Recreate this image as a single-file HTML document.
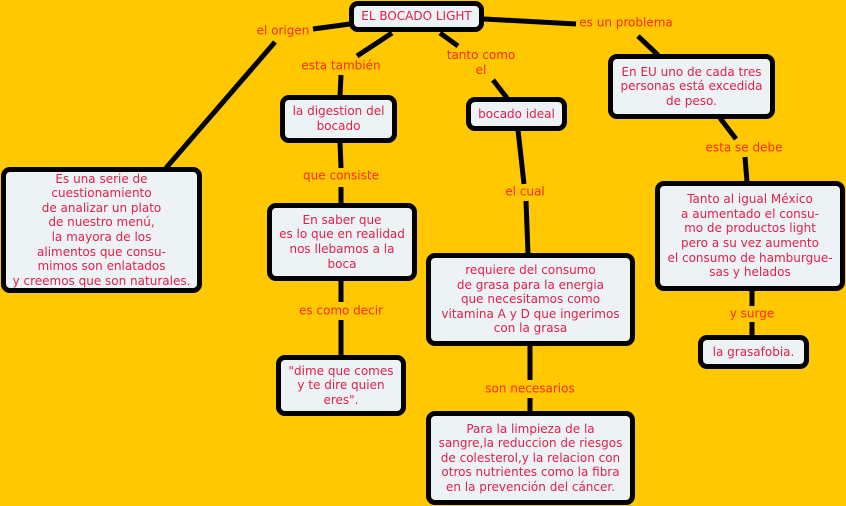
<!DOCTYPE html>
<html><head><meta charset="utf-8"><style>
body{margin:0;width:846px;height:506px;background:#FFC800;position:relative;overflow:hidden;font-family:"DejaVu Sans","Liberation Sans",sans-serif;font-size:12px}
.b{position:absolute;box-sizing:border-box;border:5px solid #000;border-radius:9px;background:#EDF2F5;color:#E0204A;display:flex;align-items:center;justify-content:center;text-align:center;line-height:14.6px;white-space:nowrap}
.l{position:absolute;color:#FF2A10;transform:translate(-50%,-50%);white-space:nowrap;text-align:center;line-height:15px}
svg{position:absolute;left:0;top:0}
</style></head><body>
<svg width="846" height="506"><g stroke="#000" stroke-width="5" fill="none">
<line x1="350" y1="24" x2="313" y2="29"/><line x1="275" y1="42" x2="166" y2="168"/>
<line x1="392" y1="33" x2="357" y2="56"/><line x1="341" y1="75" x2="340" y2="96"/>
<line x1="440" y1="33" x2="458" y2="46"/><line x1="493" y1="80" x2="507" y2="98"/>
<line x1="484" y1="19" x2="576" y2="24"/><line x1="638" y1="36" x2="658" y2="55"/>
<line x1="720" y1="118" x2="736" y2="139"/><line x1="745" y1="157" x2="747" y2="182"/>
<line x1="340" y1="142" x2="341" y2="168"/><line x1="341" y1="187" x2="341" y2="204"/>
<line x1="341" y1="280" x2="341" y2="302"/><line x1="341" y1="320" x2="341" y2="356"/>
<line x1="518" y1="130" x2="524" y2="184"/><line x1="526" y1="201" x2="528" y2="254"/>
<line x1="530" y1="345" x2="530" y2="380"/><line x1="530" y1="398" x2="530" y2="412"/>
<line x1="752" y1="290" x2="752" y2="306"/><line x1="752" y1="322" x2="752" y2="336"/>
</g></svg>
<div class="b" style="left:349px;top:1px;width:135px;height:31px">EL BOCADO LIGHT</div>
<div class="b" style="left:1px;top:167px;width:201px;height:126px">Es una serie de<br>cuestionamiento<br>de analizar un plato<br>de nuestro menú,<br>la mayora de los<br>alimentos que consu-<br>mimos son enlatados<br>y creemos que son naturales.</div>
<div class="b" style="left:280px;top:95px;width:117px;height:48px">la digestion del<br>bocado</div>
<div class="b" style="left:267px;top:203px;width:150px;height:78px">En saber que<br>es lo que en realidad<br>nos llebamos a la<br>boca</div>
<div class="b" style="left:276px;top:355px;width:130px;height:61px">"dime que comes<br>y te dire quien<br>eres".</div>
<div class="b" style="left:466px;top:97px;width:101px;height:34px">bocado ideal</div>
<div class="b" style="left:426px;top:253px;width:209px;height:93px">requiere del consumo<br>de grasa para la energia<br>que necesitamos como<br>vitamina A y D que ingerimos<br>con la grasa</div>
<div class="b" style="left:426px;top:411px;width:209px;height:94px">Para la limpieza de la<br>sangre,la reduccion de riesgos<br>de colesterol,y la relacion con<br>otros nutrientes como la fibra<br>en la prevención del cáncer.</div>
<div class="b" style="left:608px;top:54px;width:167px;height:65px">En EU uno de cada tres<br>personas está excedida<br>de peso.</div>
<div class="b" style="left:655px;top:181px;width:190px;height:110px">Tanto al igual México<br>a aumentado el consu-<br>mo de productos light<br>pero a su vez aumento<br>el consumo de hamburgue-<br>sas y helados</div>
<div class="b" style="left:698px;top:335px;width:111px;height:34px">la grasafobia.</div>
<div class="l" style="left:283px;top:31px">el origen</div>
<div class="l" style="left:341px;top:66px">esta también</div>
<div class="l" style="left:481px;top:63px">tanto como<br>el</div>
<div class="l" style="left:626px;top:23px">es un problema</div>
<div class="l" style="left:744px;top:148px">esta se debe</div>
<div class="l" style="left:341px;top:176px">que consiste</div>
<div class="l" style="left:525px;top:192px">el cual</div>
<div class="l" style="left:341px;top:311px">es como decir</div>
<div class="l" style="left:530px;top:389px">son necesarios</div>
<div class="l" style="left:752px;top:314px">y surge</div>
</body></html>
